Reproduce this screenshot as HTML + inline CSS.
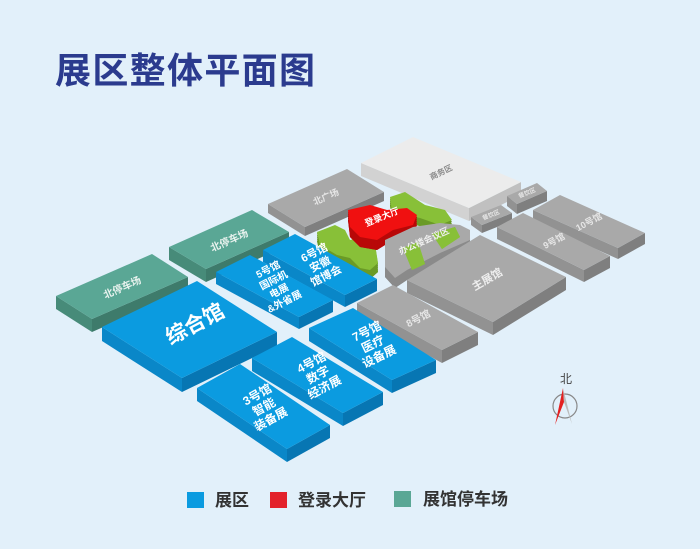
<!DOCTYPE html>
<html><head><meta charset="utf-8"><style>
html,body{margin:0;padding:0;width:700px;height:549px;overflow:hidden;background:#e2f0fa;}
svg{display:block}
text{font-family:"Liberation Sans","Noto Sans CJK SC",sans-serif;}
</style></head><body>
<svg id="s" width="700" height="549" viewBox="0 0 700 549" xmlns="http://www.w3.org/2000/svg">
<rect width="700" height="549" fill="#e2f0fa"/>
<text x="55" y="83" font-size="36" font-weight="bold" fill="#2b3b8e" style="font-family:'Noto Sans CJK SC',sans-serif" textLength="260">展区整体平面图</text>
<g id="blocks"></g>
<text x="566" y="383" font-size="12" text-anchor="middle" fill="#444" style="font-family:'Noto Sans CJK SC',sans-serif">北</text>
<circle cx="565" cy="406" r="12" fill="none" stroke="#888" stroke-width="1.2"/>
<polygon points="563,388 555,425 564,402" fill="#e32020"/>
<polygon points="563,388 564,402 572,424" fill="#bbb"/>
<rect x="187" y="492" width="17" height="16" fill="#0b9be0"/>
<text x="215" y="506" font-size="17" font-weight="bold" fill="#333" style="font-family:'Noto Sans CJK SC',sans-serif">展区</text>
<rect x="270" y="492" width="17" height="16" fill="#e3212b"/>
<text x="298" y="506" font-size="17" font-weight="bold" fill="#333" style="font-family:'Noto Sans CJK SC',sans-serif">登录大厅</text>
<rect x="394" y="491" width="17" height="16" fill="#5aa795"/>
<text x="423" y="505" font-size="17" font-weight="bold" fill="#333" style="font-family:'Noto Sans CJK SC',sans-serif">展馆停车场</text>
</svg>
<script>
var NS="http://www.w3.org/2000/svg",G=document.getElementById("blocks");
function poly(pts,fill){var p=document.createElementNS(NS,"polygon");p.setAttribute("points",pts.map(function(q){return q[0]+","+q[1]}).join(" "));p.setAttribute("fill",fill);G.appendChild(p);}
var C={b:["#0b9be0","#0a87c8","#0776b3"],g:["#5aa795","#478b79","#3e7b6b"],r:["#a9a9a9","#929292","#7f7f7f"],w:["#ececec","#d2d2d2","#c0c0c0"]};
function blk(L,a,b,h,c){c=C[c];var A=[L[0]+a[0],L[1]+a[1]],B=[L[0]+b[0],L[1]+b[1]],D=[L[0]+a[0]+b[0],L[1]+a[1]+b[1]];
poly([L,B,[B[0],B[1]+h],[L[0],L[1]+h]],c[1]);poly([B,D,[D[0],D[1]+h],[B[0],B[1]+h]],c[2]);poly([L,A,D,B],c[0]);}
function shape(pts,h,top,side){poly(pts.map(function(q){return[q[0],q[1]+h]}),side);
for(var i=0;i<h;i+=2)poly(pts.map(function(q){return[q[0],q[1]+h-i]}),side);poly(pts,top);}
blk([361,163],[52,-26],[108,45],13,"w");
blk([507,196],[30,-13],[10,8],10,"r");
blk([471,217],[30,-12],[11,8],8,"r");
blk([533,210],[27,-15],[85,38],11,"r");
blk([497,227],[26,-14],[87,43],12,"r");
blk([268,204],[79,-35],[37,23],9,"r");
shape([[390,197],[405,192],[425,205],[445,210],[452,220],[440,225],[420,218],[392,212]],8,"#88c038","#6a9a26");
shape([[317,232],[335,225],[345,230],[350,240],[362,237],[375,244],[378,263],[370,270],[360,268],[350,258],[337,255],[320,245]],9,"#88c038","#6a9a26");
shape([[348,210],[370,205],[387,210],[407,208],[417,215],[413,225],[393,230],[377,240],[360,237],[350,227]],10,"#f01010","#b80808");
shape([[385,240],[413,227],[440,223],[460,225],[470,230],[470,240],[440,253],[407,270],[395,278],[385,267]],10,"#a9a9a9","#8a8a8a");
shape([[403,248],[418,242],[425,264],[412,270]],0,"#88c038","#88c038");
shape([[432,234],[455,227],[460,237],[442,249]],0,"#88c038","#88c038");
blk([407,280],[73,-45],[86,42],13,"r");
blk([169,247],[83,-37],[37,22],13,"g");
blk([263,250],[32,-16],[82,45],12,"b");
blk([216,272],[34,-17],[83,45],12,"b");
blk([357,303],[36,-18],[85,47],13,"r");
blk([56,296],[96,-42],[36,23],13,"g");
blk([309,328],[44,-20],[83,52],13,"b");
blk([102,327],[95,-46],[80,51],14,"b");
blk([252,358],[40,-21],[91,55],13,"b");
blk([197,388],[43,-24],[90,61],13,"b");
</script>
<svg width="700" height="549" style="position:absolute;left:0;top:0" xmlns="http://www.w3.org/2000/svg">
<g font-weight="bold" text-anchor="middle" style="font-family:'Noto Sans CJK SC',sans-serif">
<g transform="translate(195,324) rotate(-28)"><text font-size="21" fill="#fff" y="7">综合馆</text></g>
<g transform="translate(122,287) rotate(-24)"><text font-size="10" fill="#e8f2ee" y="4">北停车场</text></g>
<g transform="translate(229,240) rotate(-24)"><text font-size="10" fill="#e8f2ee" y="4">北停车场</text></g>
<g transform="translate(276,285) rotate(-27)" font-size="10" fill="#fff"><text y="-14">5号馆</text><text y="-2">国际机</text><text y="10">电展</text><text y="22">&amp;外省展</text></g>
<g transform="translate(320,264) rotate(-27)" font-size="11" fill="#fff"><text y="-9">6号馆</text><text y="4">安徽</text><text y="17">馆博会</text></g>
<g transform="translate(264,407) rotate(-29)" font-size="12" fill="#fff"><text y="-10">3号馆</text><text y="4">智能</text><text y="18">装备展</text></g>
<g transform="translate(318,375) rotate(-28)" font-size="12" fill="#fff"><text y="-10">4号馆</text><text y="4">数字</text><text y="18">经济展</text></g>
<g transform="translate(373,344) rotate(-26)" font-size="12" fill="#fff"><text y="-10">7号馆</text><text y="4">医疗</text><text y="18">设备展</text></g>
<g transform="translate(418,318) rotate(-27)"><text font-size="10" fill="#e6e6e6" y="4">8号馆</text></g>
<g transform="translate(487,279) rotate(-30)"><text font-size="11" fill="#eeeeee" y="4">主展馆</text></g>
<g transform="translate(554,241) rotate(-28)"><text font-size="9" fill="#e6e6e6" y="3">9号馆</text></g>
<g transform="translate(589,222) rotate(-28)"><text font-size="9" fill="#e6e6e6" y="3">10号馆</text></g>
<g transform="translate(441,172) rotate(-26)"><text font-size="8" fill="#888" y="3">商务区</text></g>
<g transform="translate(491,215) rotate(-22)"><text font-size="6" fill="#e6e6e6" y="2">餐饮区</text></g>
<g transform="translate(527,193) rotate(-22)"><text font-size="6" fill="#e6e6e6" y="2">餐饮区</text></g>
<g transform="translate(326,197) rotate(-24)"><text font-size="9" fill="#e6e6e6" y="3">北广场</text></g>
<g transform="translate(382,217) rotate(-22)"><text font-size="9" fill="#fff" y="3">登录大厅</text></g>
<g transform="translate(424,241) rotate(-24)"><text font-size="9" fill="#eee" y="3">办公楼会议区</text></g>
</g>
</svg>
</body></html>
